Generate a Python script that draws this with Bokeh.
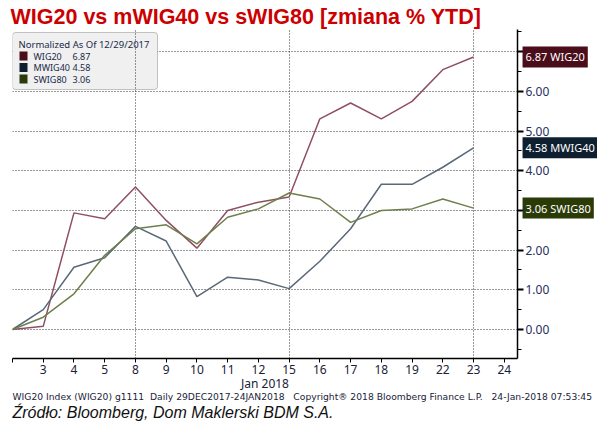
from bokeh.plotting import figure
from bokeh.models import (Range1d, FixedTicker, NumeralTickFormatter, Label,
                          BoxAnnotation, Grid, ColumnDataSource)
from bokeh.core.properties import value
from bokeh.embed import file_html
from bokeh.resources import INLINE

# ---------------- data ----------------
tick_labels = ["", "3", "4", "5", "8", "9", "10", "11", "12", "15", "16",
               "17", "18", "19", "22", "23", "24"]
series_names = ["WIG20", "MWIG40", "SWIG80"]
wig20 = [0.00, 0.08, 2.94, 2.79, 3.59, 2.75, 2.05, 3.00, 3.21, 3.34,
         5.31, 5.71, 5.31, 5.75, 6.55, 6.87]
mwig40 = [0.00, 0.50, 1.57, 1.81, 2.60, 2.23, 0.83, 1.32, 1.25, 1.03,
          1.72, 2.54, 3.66, 3.66, 4.09, 4.58]
swig80 = [0.00, 0.31, 0.90, 1.87, 2.54, 2.64, 2.16, 2.83, 3.04, 3.44,
          3.29, 2.70, 3.00, 3.04, 3.29, 3.06]
y_ticks = [0, 1, 2, 3, 4, 5, 6, 7]
x_grid_days = [0, 4, 9, 15]

title_text = "WIG20 vs mWIG40 vs sWIG80 [zmiana % YTD]"
legend_header = "Normalized As Of 12/29/2017"
NB = "\u00a0"
footer_text = ("WIG20 Index (WIG20) g1111" + NB * 2 + "Daily 29DEC2017-24JAN2018" + NB * 3 +
               "Copyright\u00ae 2018 Bloomberg Finance L.P." + NB * 3 + "24-Jan-2018 07:53:45")
source_text = "\u0179r\u00f3d\u0142o: Bloomberg, Dom Maklerski BDM S.A."

line_colors = ["#8e5060", "#5a6878", "#6e7f4c"]
tag_colors = ["#4a0d1a", "#0e1f30", "#2b3b08"]

FONT = "Noto Sans"

# ---------------- figure ----------------
W, H = 597, 421
X0, X1 = 0, 16.43
Y0, Y1 = -0.731, 7.562
p = figure(width=W, height=H, output_backend="svg", toolbar_location=None,
           x_range=Range1d(X0, X1), y_range=Range1d(Y0, Y1),
           y_axis_location="right", min_border_left=12, min_border_right=80,
           min_border_top=29, min_border_bottom=63)
p.outline_line_color = None
p.background_fill_color = "white"
p.border_fill_color = "white"
p.xgrid.visible = False
p.ygrid.visible = False

# frame in page px: x 12..517, y 29..358
def sx(px):
    return px - 12

def sy(py):
    return 358 - py

# y grid (drawn under legend box)
ygrid = Grid(dimension=1, ticker=FixedTicker(ticks=y_ticks),
             grid_line_color="#333333", grid_line_dash="1 2", grid_line_width=1)
p.add_layout(ygrid)

# legend box
box = BoxAnnotation(left=sx(12), right=sx(157), top=sy(32), bottom=sy(89),
                    left_units="screen", right_units="screen",
                    top_units="screen", bottom_units="screen",
                    fill_color="#f0f0f0", fill_alpha=1.0,
                    line_color="#444444", line_width=1, border_radius=3,
                    level="underlay")
p.add_layout(box)

# x grid (drawn over legend box)
xgrid = Grid(dimension=0, ticker=FixedTicker(ticks=x_grid_days),
             grid_line_color="#333333", grid_line_dash="1 2", grid_line_width=1,
             level="underlay")
p.add_layout(xgrid)

# lines
xs = list(range(len(wig20)))
for vals, col in zip([wig20, mwig40, swig80], line_colors):
    p.line(xs, vals, line_color=col, line_width=1.5)

# axes
yax = p.yaxis[0]
yax.ticker = FixedTicker(ticks=y_ticks,
                         minor_ticks=[t - 0.5 for t in y_ticks] + [7.5])
yax.formatter = NumeralTickFormatter(format="0.00")
yax.axis_line_color = "black"
yax.axis_line_width = 1.5
yax.major_tick_in = 0
yax.major_tick_out = 6
yax.major_tick_line_width = 2
yax.minor_tick_in = 0
yax.minor_tick_out = 4
yax.major_label_standoff = 2
yax.major_label_text_font = FONT
yax.major_label_text_font_size = "12px"
yax.major_label_text_color = "#1f3060"

xax = p.xaxis[0]
xax.ticker = FixedTicker(ticks=list(range(len(tick_labels))))
xax.major_label_overrides = {i: t for i, t in enumerate(tick_labels)}
xax.axis_line_color = "black"
xax.axis_line_width = 1.5
xax.major_tick_in = 0
xax.major_tick_out = 4
xax.minor_tick_out = 0
xax.major_label_standoff = 2
xax.major_label_text_font = FONT
xax.major_label_text_font_size = "12px"
xax.major_label_text_color = "#1a2238"
xax.axis_label = "Jan 2018"
xax.axis_label_standoff = -2
xax.axis_label_text_font = FONT
xax.axis_label_text_font_size = "12px"
xax.axis_label_text_font_style = "normal"
xax.axis_label_text_color = "#1a2238"

# legend content
p.add_layout(Label(x=sx(18), y=sy(44), x_units="screen", y_units="screen",
                   text=legend_header, text_font=FONT, text_font_size="9.5px",
                   text_color="#1a2a4a", text_baseline="middle", text_align="left"))
finals = [wig20[-1], mwig40[-1], swig80[-1]]
row_y = [55.5, 67, 78.5]
for name, val, tc, ry in zip(series_names, finals, tag_colors, row_y):
    p.add_layout(BoxAnnotation(left=sx(19), right=sx(27), top=sy(ry - 4.5),
                               bottom=sy(ry + 4.5), left_units="screen",
                               right_units="screen", top_units="screen",
                               bottom_units="screen", fill_color=tc,
                               fill_alpha=1.0, line_color=None))
    p.add_layout(Label(x=sx(33), y=sy(ry), x_units="screen", y_units="screen",
                       text=name, text_font=FONT, text_font_size="9px",
                       text_color="#1a2a4a", text_baseline="middle"))
    p.add_layout(Label(x=sx(72), y=sy(ry), x_units="screen", y_units="screen",
                       text=f"{val:.2f}", text_font=FONT, text_font_size="9px",
                       text_color="#1a2a4a", text_baseline="middle"))

# value tags on right axis (text glyphs at overlay level, not clipped)
last_x = len(wig20) - 1
tag_src = ColumnDataSource(dict(
    x=[last_x] * 3, y=finals,
    text=[f"{v:.2f} {n}" for v, n in zip(finals, series_names)],
    color=tag_colors))
p.text(x="x", y="y", text="text", source=tag_src, x_offset=49,
       text_font=value(FONT), text_font_size="11px", text_color="white",
       text_align="left", text_baseline="middle",
       background_fill_color="color", background_fill_alpha=1.0,
       padding=3, level="overlay")

# title and footer texts, anchored to the frame corners with pixel offsets
p.text(x=[X0], y=[Y1], text=[title_text], x_offset=-2, y_offset=16 - 29,
       text_font=value("Liberation Sans"), text_font_size="21.5px",
       text_font_style="bold", text_color="#cc0000",
       text_align="left", text_baseline="middle", level="overlay")
p.text(x=[X0], y=[Y0], text=[footer_text], x_offset=0, y_offset=396 - 358,
       text_font=value("DejaVu Sans"), text_font_size="9.2px",
       text_color="#1a2238", text_align="left", text_baseline="middle",
       level="overlay")
p.text(x=[X0], y=[Y0], text=[source_text], x_offset=0, y_offset=412 - 358,
       text_font=value("Liberation Sans"), text_font_size="16px",
       text_font_style="italic", text_color="#111111",
       text_align="left", text_baseline="middle", level="overlay")

open("out.html", "w").write(file_html(p, INLINE))
